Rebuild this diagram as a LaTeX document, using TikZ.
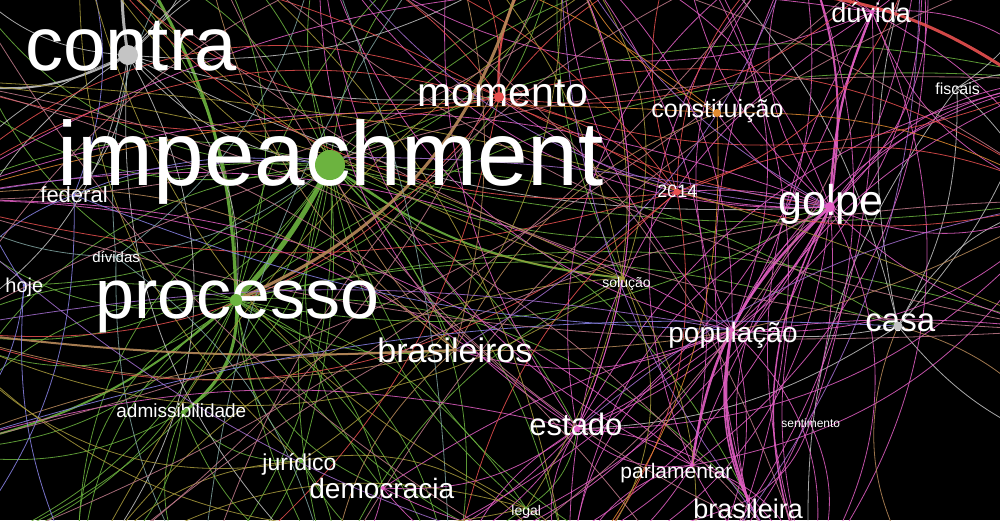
\documentclass[tikz,border=0pt]{standalone}
\usepackage{fontspec}
\setmainfont{Liberation Sans}

\pgfdeclarelayer{bg}
\pgfdeclarelayer{edges}
\pgfdeclarelayer{words}
\pgfsetlayers{bg,edges,words,main}

\definecolor{gcol}{HTML}{6CB33F}
\definecolor{pcol}{HTML}{E35FC4}
\definecolor{rcol}{HTML}{E8504F}
\definecolor{tcol}{HTML}{B98A5A}
\definecolor{ycol}{HTML}{C4C4C4}
\definecolor{vcol}{HTML}{8A84E8}
\definecolor{scol}{HTML}{7FA3A0}
\definecolor{ocol}{HTML}{A89A3C}
\definecolor{mcol}{HTML}{C07A8A}
\definecolor{kcol}{HTML}{A46ED0}
\definecolor{ncol}{HTML}{E08A30}

% half size, since one unit is half a point
\newcommand{\wsize}[1]{\pgfmathsetmacro\fsz{#1/2}\fontsize{\fsz}{\fsz}\selectfont}

\tikzset{
    word/.style={text=white, inner sep=0pt, anchor=base west},
    dot/.style={circle, inner sep=0pt},
    link/.style={line width=0.4pt, opacity=0.85},
    heavy/.style={line width=#1, opacity=0.9},
}

\begin{document}
\begin{tikzpicture}[x=0.5pt, y=-0.5pt]

            \useasboundingbox (0,0) rectangle (1000,520);
            \begin{pgfonlayer}{bg}
                \fill[black] (0,0) rectangle (1000,520);
            \end{pgfonlayer}

            % points off the canvas
            \foreach \n/\x/\y in {t1/-50/-40, t2/80/-60, t3/200/-70, t4/320/-60, t5/450/-70,
                                  t6/560/-60, t7/680/-70, t8/800/-60, t9/920/-70, t10/1050/-40,
                                  b1/-50/560, b2/80/580, b3/200/590, b4/330/580, b5/450/590,
                                  b6/570/580, b7/690/590, b8/810/580, b9/930/590, b10/1050/560,
                                  l1/-60/80, l2/-70/200, l3/-60/330, l4/-70/450,
                                  r1/1060/80, r2/1070/200, r3/1060/330, r4/1070/450,
                                  gtop/135/-40, ytop/122/-30, ttop/520/-20, rtop/760/-10, rright/1020/78} {
                \coordinate (\n) at (\x,\y);
            }

            % nodes
            \foreach \n/\x/\y/\r/\c in {impeachment/330/165/15/gcol, contra/128/55/10/ycol,
                                        processo/236/300/6/gcol, momento/499/97/5/rcol,
                                        constituicao/717/113/4/ncol, y2014/677/192/3.5/rcol,
                                        golpe/830/207/5/pcol, casa/898/326/4.5/ycol,
                                        estado/577/429/3/pcol, brasileiros/455/350/2/tcol,
                                        populacao/732/330/2/pcol, duvida/872/12/2/pcol,
                                        fiscais/957/88/1.5/ycol, federal/74/195/1.5/vcol,
                                        dividas/116/257/1.5/scol, hoje/24/285/1.5/vcol,
                                        solucao/623/278/2/ocol, sentimento/810/423/1.5/pcol,
                                        admissibilidade/183/412/2/gcol, juridico/301/461/2/gcol,
                                        democracia/383/488/2/pcol, parlamentar/692/465/2/pcol,
                                        legal/526/508/1.5/gcol, brasileira/748/500/2/pcol} {
                \node[dot, fill=\c, minimum size=\r] (\n) at (\x,\y) {};
            }

            % labels
            \begin{pgfonlayer}{words}
            \foreach \n/\x/\y/\s/\t in {contra/25/70/76/contra, impeachment/57/185/91/impeachment,
                                        processo/95/318/70/processo, momento/417/106/41/momento,
                                        golpe/778/215/43/golpe, brasileiros/377/362/34/brasileiros,
                                        casa/865/331/33/casa, populacao/668/342/28/população,
                                        estado/529/435/31/estado, democracia/309/498/28/democracia,
                                        brasileira/693/518/27/brasileira, constituicao/651/117/25/constituição,
                                        duvida/831/22/27/dúvida, parlamentar/620/478/21/parlamentar,
                                        juridico/262/470/23/jurídico, admissibilidade/116/417/19/admissibilidade,
                                        federal/40/202/22/federal, hoje/5/292/20/hoje,
                                        dividas/92/262/15/dívidas, y2014/657/197/18/2014,
                                        fiscais/935/94/16/fiscais, solucao/602/287/14/solução,
                                        sentimento/781/427/12/sentimento, legal/511/515/14/legal} {
                \node[word, font=\wsize{\s}] (\n-l) at (\x,\y) {\t};
            }
            \end{pgfonlayer}

            \begin{pgfonlayer}{edges}
            % green edges
            \foreach \a/\b/\bd in {impeachment/b3/20, impeachment/b4/-15, impeachment/l2/-20,
                                   impeachment/l1/25, impeachment/t3/-20, impeachment/t4/15,
                                   impeachment/juridico/10, impeachment/legal/-20,
                                   impeachment/brasileiros/10, impeachment/admissibilidade/25,
                                   impeachment/federal/-10, impeachment/hoje/20, impeachment/estado/15,
                                   impeachment/r2/-10, impeachment/b6/20,
                                   processo/b1/20, processo/b2/-25, processo/b5/15, processo/l3/-20,
                                   processo/l4/25, processo/juridico/-20, processo/democracia/25,
                                   processo/legal/20, processo/brasileiros/-20, processo/r3/15,
                                   processo/t3/-25, processo/b4/-10, processo/l2/30,
                                   admissibilidade/b2/25, admissibilidade/b4/-20, admissibilidade/l4/20,
                                   admissibilidade/juridico/-25, admissibilidade/b3/-30,
                                   juridico/b3/15, juridico/b5/-20, juridico/b4/25,
                                   legal/b6/20, legal/estado/-25, legal/b5/-15,
                                   solucao/t6/15, solucao/b4/-20} {
                \draw[link, gcol] (\a.center) to[bend left=\bd] (\b.center);
            }
            % spokes of the two large words
            \foreach \a in {impeachment, processo} {
                \foreach \b/\bd in {t1/30, t2/-25, t5/20, t6/-30, t8/25, l3/35, l4/-30, b1/25,
                                    b2/-35, b5/30, b7/-25, r1/20, golpe/-20, brasileira/25,
                                    democracia/-30, casa/15} {
                    \draw[link, gcol] (\a.center) to[bend left=\bd] (\b.center);
                }
            }
            \draw[heavy=2.5pt, gcol] (impeachment.center) to[bend left=8] (processo.center);
            \draw[heavy=1.5pt, gcol] (gtop.center) to[bend left=15] (processo.center);
            \draw[heavy=1.5pt, gcol] (processo.center) to[bend left=30] (admissibilidade.center);
            \draw[heavy=1pt, gcol] (impeachment.center) to[bend left=-15] (solucao.center);
            \draw[heavy=1pt, gcol] (processo.center) to[bend left=15] (l4.center);

            % grey edges
            \foreach \a/\b/\bd in {contra/l2/-15, contra/t1/25, contra/impeachment/-20, contra/t4/15,
                                   contra/federal/20, contra/momento/-10, contra/t3/-20,
                                   contra/t5/30, contra/t6/-20, contra/l3/25, contra/l4/-30,
                                   contra/b2/35, contra/b4/-25, contra/processo/30, contra/golpe/-15,
                                   casa/t9/15, casa/t10/-20, casa/r2/25, casa/r4/-15,
                                   casa/populacao/10, casa/fiscais/-15, casa/estado/15, casa/t7/-15,
                                   fiscais/r1/20, fiscais/t10/-20, fiscais/r3/25, fiscais/b8/-20} {
                \draw[link, ycol] (\a.center) to[bend left=\bd] (\b.center);
            }
            \draw[heavy=1.5pt, ycol] (contra.center) to[bend left=5] (ytop.center);
            \draw[heavy=1pt, ycol] (contra.center) to[bend left=20] (l1.center);

            % pink edges
            \foreach \a/\b/\bd in {golpe/t7/20, golpe/t9/15, golpe/b7/25, golpe/b8/-20,
                                   golpe/b6/30, golpe/estado/20, golpe/populacao/-15,
                                   golpe/constituicao/15, golpe/y2014/-10, golpe/r1/20, golpe/r3/-15,
                                   golpe/momento/20, golpe/brasileira/-30, golpe/b5/25,
                                   populacao/t6/20, populacao/t8/-20, populacao/b7/25,
                                   populacao/estado/-15, populacao/brasileiros/20, populacao/t7/-30,
                                   parlamentar/b6/15, parlamentar/b8/-20, parlamentar/estado/25,
                                   brasileira/b7/20, brasileira/t7/-25, brasileira/t8/20,
                                   brasileira/sentimento/-20, brasileira/democracia/25,
                                   estado/b5/-20, estado/t5/20, estado/l4/-15, estado/democracia/20,
                                   estado/t6/-25, estado/b4/15,
                                   duvida/t8/20, duvida/b8/-25, duvida/b7/20, duvida/r2/15,
                                   sentimento/t8/-20, sentimento/b8/25,
                                   democracia/b4/20, democracia/b6/-25, democracia/r3/20} {
                \draw[link, pcol] (\a.center) to[bend left=\bd] (\b.center);
            }
            % spokes of the pink words
            \foreach \a in {golpe, populacao, estado, parlamentar, duvida} {
                \foreach \b/\bd in {t4/30, t6/-25, t8/35, t9/-30, b4/25, b6/-30, b8/30,
                                    l2/-20, r1/25, r2/-25} {
                    \draw[link, pcol] (\a.center) to[bend left=\bd] (\b.center);
                }
            }
            \draw[heavy=1.25pt, pcol] (parlamentar.center) to[bend left=20] (golpe.center);
            \draw[heavy=1.25pt, pcol] (populacao.center) to[bend left=-15] (brasileira.center);
            \draw[heavy=1pt, pcol] (golpe.center) to[bend left=-15] (t8.center);
            \draw[heavy=1pt, pcol] (golpe.center) to[bend left=10] (duvida.center);
            \draw[heavy=0.75pt, pcol] (golpe.center) to[bend left=-25] (b8.center);
            \draw[heavy=0.75pt, pcol] (populacao.center) to[bend left=-30] (b8.center);

            % red edges
            \foreach \a/\b/\bd in {momento/t5/-20, momento/t1/-15, momento/l1/15, momento/r1/-20,
                                   momento/y2014/15, momento/golpe/-10, momento/b3/20,
                                   y2014/t7/20, y2014/b5/-20, y2014/l2/15, y2014/b6/25, y2014/r2/-15} {
                \draw[link, rcol] (\a.center) to[bend left=\bd] (\b.center);
            }
            \foreach \a in {momento, y2014} {
                \foreach \b/\bd in {t2/30, t3/-25, t8/25, t9/-30, l2/-35, l3/30, r2/25} {
                    \draw[link, rcol] (\a.center) to[bend left=\bd] (\b.center);
                }
            }
            \draw[heavy=1.5pt, rcol] (rtop.center) to[bend left=15] (rright.center);
            \draw[heavy=1pt, rcol] (momento.center) to[bend left=25] (t6.center);

            % tan and orange edges
            \foreach \a/\b/\bd in {brasileiros/l3/15, brasileiros/l4/-10, brasileiros/t3/20,
                                   brasileiros/b4/-20, brasileiros/impeachment/10, brasileiros/r2/-15,
                                   brasileiros/constituicao/20, brasileiros/l2/-25, brasileiros/t5/-15,
                                   casa/b9/-30, casa/r4/20} {
                \draw[link, tcol] (\a.center) to[bend left=\bd] (\b.center);
            }
            \draw[heavy=1.5pt, tcol] (processo.center) to[bend left=-25] (ttop.center);
            \draw[heavy=1pt, tcol] (brasileiros.center) to[bend left=5] (l3.center);
            \foreach \a/\b/\bd in {constituicao/t6/20, constituicao/t4/-15, constituicao/b6/20,
                                   constituicao/l2/-10, constituicao/r2/15} {
                \draw[link, ncol] (\a.center) to[bend left=\bd] (\b.center);
            }

            % violet and teal edges
            \foreach \a/\b/\bd in {hoje/t1/20, hoje/b2/-15, hoje/l4/25, federal/t2/-20,
                                   federal/b1/20, federal/l3/-25, federal/impeachment/15,
                                   federal/populacao/-10, casa/l4/-10} {
                \draw[link, vcol] (\a.center) to[bend left=\bd] (\b.center);
            }
            \foreach \a/\b/\bd in {dividas/t3/20, dividas/b3/-15, dividas/t4/-20, dividas/l2/15,
                                   dividas/b4/20, dividas/impeachment/-15, t4/b5/10, t5/b3/-15} {
                \draw[link, scol] (\a.center) to[bend left=\bd] (\b.center);
            }

            % olive edges
            \foreach \a/\b/\bd in {solucao/t5/-15, solucao/b7/20, solucao/l1/-10, solucao/t2/15,
                                   t3/b6/20, t7/b2/-15, l1/r3/10} {
                \draw[link, ocol] (\a.center) to[bend left=\bd] (\b.center);
            }
            \foreach \a in {juridico, legal, solucao} {
                \foreach \b/\bd in {t2/25, t6/-30, l3/30, b2/-25, b6/35} {
                    \draw[link, ocol] (\a.center) to[bend left=\bd] (\b.center);
                }
            }

            % mauve and purple edges
            \foreach \a/\b/\bd in {t2/r2/20, t3/r3/-15, t4/b8/20, t5/l3/-20, t6/b2/15,
                                   t7/l2/20, t8/b3/-25, t9/l4/15, t10/b4/-20, l1/b7/20,
                                   l2/r3/-10, l3/r1/15, b1/t8/-15, b2/r2/20, b5/t9/-20,
                                   b6/t1/15, b8/l1/-20, b9/t3/25, r3/t2/20} {
                \draw[link, mcol] (\a.center) to[bend left=\bd] (\b.center);
            }
            \foreach \a/\b/\bd in {golpe/l2/-10, golpe/t6/15, populacao/l3/-10, estado/r2/15,
                                   t6/b8/-20, t9/b7/20, l2/b7/-15, golpe/t4/25, brasileiros/t8/-20} {
                \draw[link, kcol] (\a.center) to[bend left=\bd] (\b.center);
            }
            \end{pgfonlayer}

\end{tikzpicture}
\end{document}
